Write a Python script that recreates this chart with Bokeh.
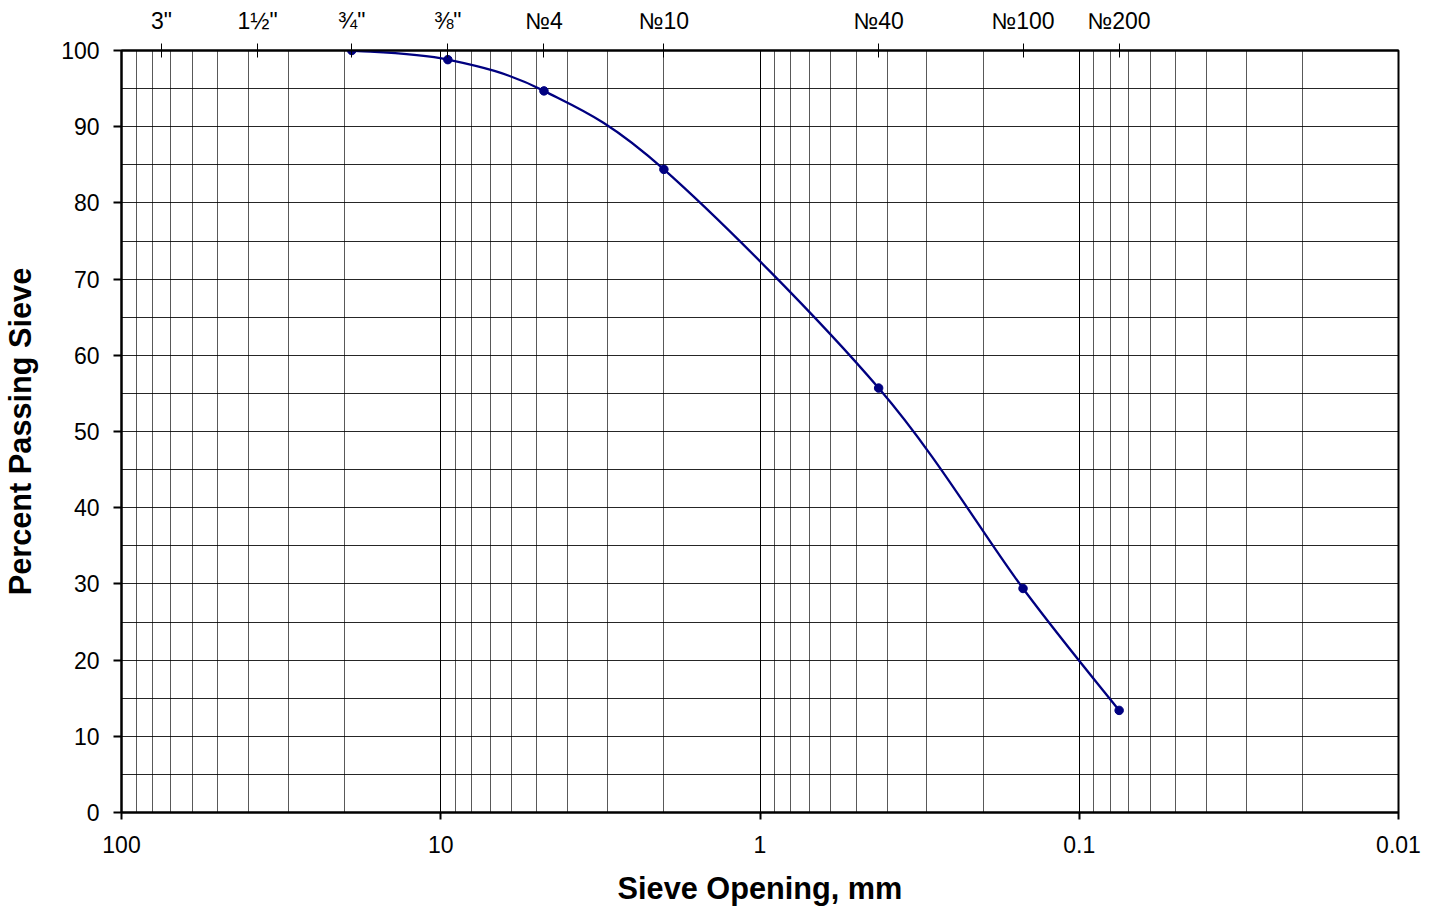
import numpy as np
from bokeh.plotting import figure
from bokeh.models import (Range1d, LogAxis, FixedTicker, CustomJSTickFormatter,
                          ColumnDataSource, Grid, SingleIntervalTicker)
from bokeh.embed import file_html
from bokeh.resources import INLINE

# ---- data ----
sieve_labels = ['3"', '1½"', '¾"', '⅜"', '№4', '№10', '№40', '№100', '№200']
sieve_mm = [75.0, 37.5, 19.0, 9.5, 4.75, 2.0, 0.425, 0.15, 0.075]

opening_mm = [19.0, 9.5, 4.75, 2.0, 0.425, 0.15, 0.075]
percent_passing = [100.0, 98.8, 94.7, 84.4, 55.7, 29.4, 13.4]

bottom_ticks = [100, 10, 1, 0.1, 0.01]
bottom_labels = ["100", "10", "1", "0.1", "0.01"]
y_ticks = [0, 10, 20, 30, 40, 50, 60, 70, 80, 90, 100]

FONT = "Liberation Sans"
NAVY = "#000080"

p = figure(x_axis_type="log", x_range=Range1d(100, 0.01), y_range=Range1d(0, 100),
           frame_width=1277, frame_height=762,
           min_border_left=120, min_border_top=50, min_border_right=30, min_border_bottom=90,
           output_backend="svg", toolbar_location=None,
           background_fill_color="white", border_fill_color="white")

p.outline_line_color = "black"
p.outline_line_width = 2

fmt_code = """
const i = vals.findIndex(v => Math.abs(v - tick) / Math.abs(v) < 1e-6);
return i >= 0 ? labs[i] : '';
"""


def style_axis(ax):
    ax.major_label_text_font = FONT
    ax.major_label_text_font_size = "23px"
    ax.major_label_text_color = "black"
    ax.axis_label_text_color = "black"
    ax.axis_line_color = "black"
    ax.major_tick_line_color = "black"
    ax.axis_line_width = 2
    ax.major_tick_line_width = 2
    ax.minor_tick_in = 0
    ax.minor_tick_out = 0


# bottom axis
xa = p.xaxis[0]
style_axis(xa)
xa.ticker = FixedTicker(ticks=bottom_ticks)
xa.formatter = CustomJSTickFormatter(args=dict(vals=bottom_ticks, labs=bottom_labels), code=fmt_code)
xa.axis_label = "Sieve Opening, mm"
xa.axis_label_text_font = FONT
xa.axis_label_text_font_style = "bold"
xa.axis_label_text_font_size = "30.7px"
xa.axis_label_standoff = 15
xa.major_label_standoff = 16
xa.major_tick_in = 0
xa.major_tick_out = 7

# left axis
ya = p.yaxis[0]
style_axis(ya)
ya.ticker = FixedTicker(ticks=y_ticks)
ya.axis_label = "Percent Passing Sieve"
ya.axis_label_text_font = FONT
ya.axis_label_text_font_style = "bold"
ya.axis_label_text_font_size = "30.7px"
ya.axis_label_standoff = 20
ya.major_label_standoff = 14
ya.major_tick_in = 0
ya.major_tick_out = 8

# top axis with sieve designations
top = LogAxis(ticker=FixedTicker(ticks=sieve_mm),
              formatter=CustomJSTickFormatter(args=dict(vals=sieve_mm, labs=sieve_labels), code=fmt_code))
style_axis(top)
top.major_label_standoff = 10
top.major_tick_in = 7
top.major_tick_out = 7
top.major_tick_line_width = 1
p.add_layout(top, "above")

# grids
p.xgrid.visible = False
p.ygrid.visible = False
minor_x = [k * 10.0 ** d for d in range(-2, 2) for k in range(2, 10)]
p.add_layout(Grid(dimension=0, ticker=FixedTicker(ticks=minor_x),
                  grid_line_color="black", grid_line_alpha=0.65, grid_line_width=1))
p.add_layout(Grid(dimension=0, ticker=FixedTicker(ticks=bottom_ticks),
                  grid_line_color="black", grid_line_width=1))
p.add_layout(Grid(dimension=1, ticker=SingleIntervalTicker(interval=5),
                  grid_line_color="black", grid_line_alpha=0.85, grid_line_width=1))

# smooth curve: Catmull-Rom style bezier in (log x, y) space
lx = np.log10(np.array(opening_mm))
yy = np.array(percent_passing)
n = len(lx)
idx_prev = np.clip(np.arange(n) - 1, 0, n - 1)
idx_next = np.clip(np.arange(n) + 1, 0, n - 1)
tx = (lx[idx_next] - lx[idx_prev]) / 6.0
ty = (yy[idx_next] - yy[idx_prev]) / 6.0
seg = dict(
    x0=10 ** lx[:-1], y0=yy[:-1], x1=10 ** lx[1:], y1=yy[1:],
    cx0=10 ** (lx[:-1] + tx[:-1]), cy0=yy[:-1] + ty[:-1],
    cx1=10 ** (lx[1:] - tx[1:]), cy1=yy[1:] - ty[1:],
)
p.bezier(x0="x0", y0="y0", x1="x1", y1="y1", cx0="cx0", cy0="cy0", cx1="cx1", cy1="cy1",
         source=ColumnDataSource(seg), line_color=NAVY, line_width=2.3)

p.scatter(opening_mm, percent_passing, size=8.5, color=NAVY)

open("out.html", "w").write(file_html(p, INLINE))
